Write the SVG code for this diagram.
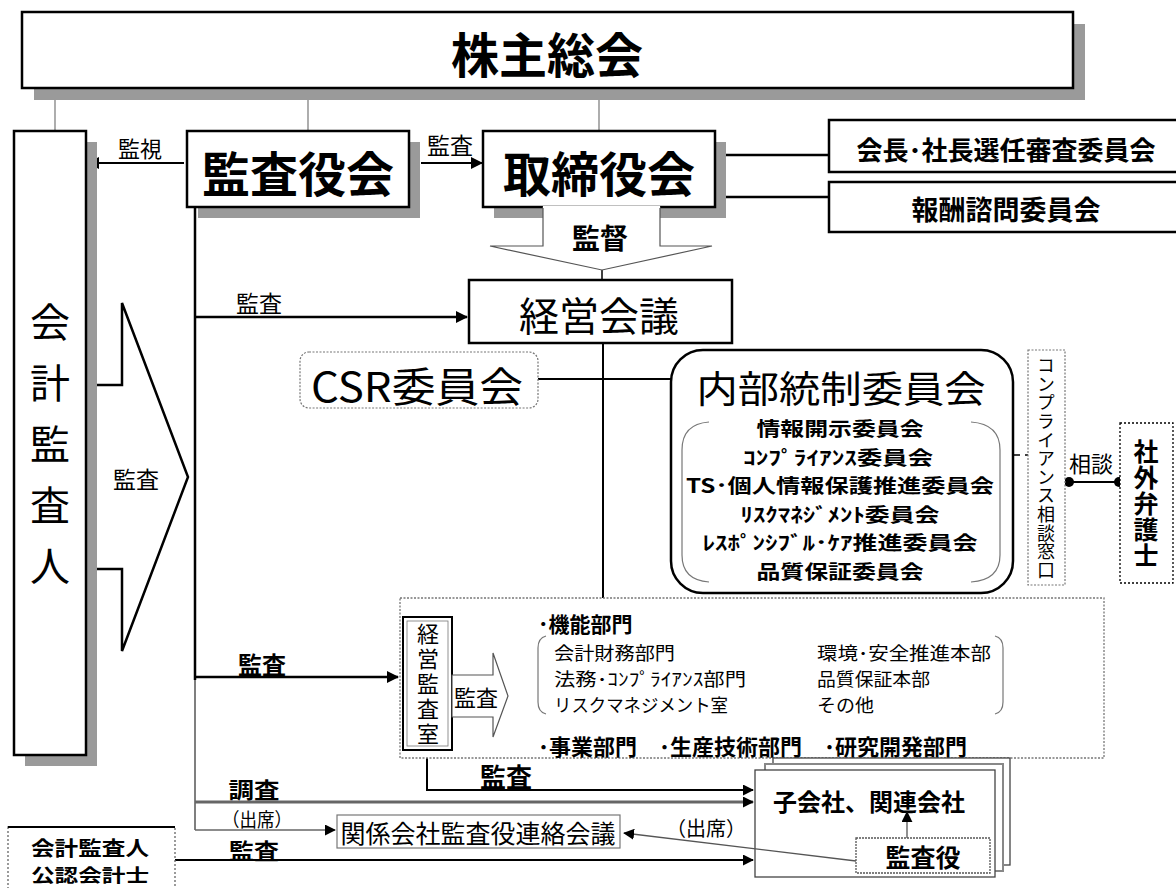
<svg xmlns="http://www.w3.org/2000/svg" width="1176" height="888" viewBox="0 0 1176 888">
<defs>
<style>
text{font-family:"Noto Sans CJK JP","Noto Sans CJK SC",sans-serif;fill:#000;dominant-baseline:central}
.c{text-anchor:middle}
.b{font-weight:bold}
.box{fill:#fff;stroke:#000;stroke-width:2.5}
.shd{fill:#9a9a9a}
.thin{fill:none;stroke:#777;stroke-width:1.2}
.ln{fill:none;stroke:#000;stroke-width:2}
.dot{fill:#fff;stroke:#777;stroke-width:1.2;stroke-dasharray:2 1.5}
.vt{writing-mode:vertical-rl}
.li{font-size:19.5px;font-weight:bold;text-anchor:middle}
.dp{font-size:18px}
</style>
<marker id="ah" viewBox="0 0 12 12" refX="11" refY="6" markerWidth="13" markerHeight="12" markerUnits="userSpaceOnUse" orient="auto"><path d="M0,0 L12,6 L0,12 z" fill="#000"/></marker>
<marker id="ahs" viewBox="0 0 12 12" refX="11" refY="6" markerWidth="11" markerHeight="11" markerUnits="userSpaceOnUse" orient="auto"><path d="M0,0 L12,6 L0,12 z" fill="#000"/></marker>
</defs>
<rect width="1176" height="888" fill="#fff"/>

<g id="connectors">
<line x1="55" y1="100" x2="55" y2="131" class="thin"/>
<line x1="308" y1="100" x2="308" y2="131" class="thin"/>
<line x1="599" y1="100" x2="599" y2="131" class="thin"/>
<line x1="184" y1="163" x2="88" y2="163" class="ln" marker-end="url(#ah)"/>
<line x1="421" y1="163" x2="482" y2="163" class="ln" marker-end="url(#ah)"/>
<line x1="715" y1="155" x2="829" y2="155" stroke="#000" stroke-width="2.5"/>
<line x1="715" y1="197" x2="829" y2="197" stroke="#000" stroke-width="2.5"/>
<line x1="195" y1="207" x2="195" y2="680" stroke="#000" stroke-width="2.5"/>
<line x1="195" y1="680" x2="195" y2="830" stroke="#555" stroke-width="1.5"/>
<line x1="195" y1="317" x2="467" y2="317" stroke="#000" stroke-width="2.5" marker-end="url(#ah)"/>
<line x1="195" y1="677" x2="398" y2="677" stroke="#000" stroke-width="2.5" marker-end="url(#ah)"/>
<line x1="602" y1="270" x2="602" y2="280" stroke="#000" stroke-width="1.5"/>
<line x1="603" y1="343" x2="603" y2="598" class="ln"/>
<line x1="538" y1="379" x2="671" y2="379" class="ln"/>
<line x1="941" y1="455" x2="1028" y2="455" stroke="#000" stroke-width="1.5" stroke-dasharray="9 5"/>
<line x1="1068" y1="482" x2="1120" y2="482" class="ln"/>
<circle cx="1069" cy="482" r="5" fill="#000"/>
<circle cx="1119" cy="482" r="5" fill="#000"/>
<polyline points="427,758 427,790 753,790" class="ln" marker-end="url(#ahs)"/>
<line x1="195" y1="802" x2="753" y2="802" stroke="#666" stroke-width="3" marker-end="url(#ahs)"/>
<line x1="195" y1="830" x2="335" y2="830" stroke="#666" stroke-width="1.5" marker-end="url(#ahs)"/>
<line x1="175" y1="860" x2="753" y2="860" class="ln" marker-end="url(#ahs)"/>
</g>

<g id="sokai">
<rect x="34" y="24" width="1051" height="76" class="shd"/>
<rect x="22" y="12" width="1051" height="76" class="box"/>
<text x="547" y="52" class="c b" font-size="48">株主総会</text>
</g>

<g id="kaikei-kansanin">
<rect x="25" y="142" width="72" height="624" class="shd"/>
<rect x="14" y="131" width="72" height="624" class="box"/>
<text x="50" y="454" class="c vt" font-size="40" letter-spacing="21">会計監査人</text>
<text x="140" y="147" class="c" font-size="22">監視</text>
</g>

<g id="kansa-arrow-big">
<polygon points="97,385 122,385 122,303 188,477 122,651 122,569 97,569" fill="#fff" stroke="none"/>
<polyline points="97,385 122,385 122,303 188,477 122,651 122,569 97,569" fill="none" stroke="#000" stroke-width="2.5"/>
<text x="136" y="478" class="c" font-size="23">監査</text>
</g>

<g id="kansayakukai">
<rect x="198" y="142" width="222" height="76" class="shd"/>
<rect x="187" y="131" width="222" height="76" class="box"/>
<text x="298" y="171" class="c b" font-size="48">監査役会</text>
<text x="450" y="144" class="c" font-size="23">監査</text>
</g>

<g id="torishimariyakukai">
<rect x="494" y="142" width="232" height="76" class="shd"/>
<rect x="483" y="131" width="232" height="76" class="box"/>
<text x="599" y="171" class="c b" font-size="48">取締役会</text>
</g>

<g id="kantoku-arrow">
<polygon points="543,207 543,246 490,246 602,270 712,246 660,246 660,207" fill="#fff" stroke="#555" stroke-width="1.2"/>
<line x1="543" y1="207" x2="660" y2="207" stroke="#fff" stroke-width="2"/>
<text x="600" y="237" class="c b" font-size="28">監督</text>
</g>

<g id="kaicho-iinkai">
<rect x="829" y="120" width="360" height="52" class="box"/>
<text x="1006" y="148" class="c b" font-size="26">会長･社長選任審査委員会</text>
</g>

<g id="hoshu-iinkai">
<rect x="829" y="182" width="360" height="50" class="box"/>
<text x="1006" y="208" class="c b" font-size="27">報酬諮問委員会</text>
</g>

<g id="keiei-kaigi">
<rect x="469" y="280" width="263" height="63" class="box"/>
<text x="599" y="314" class="c" font-size="40">経営会議</text>
<text x="259" y="302" class="c" font-size="23">監査</text>
</g>

<g id="csr">
<rect x="300" y="352" width="238" height="56" rx="9" class="dot"/>
<text x="417" y="384" class="c" font-size="41" textLength="212" lengthAdjust="spacingAndGlyphs">CSR委員会</text>
</g>

<g id="naibu-tousei">
<rect x="671" y="350" width="342" height="243" rx="32" class="box"/>
<text x="841" y="387" class="c" font-size="37" textLength="289" lengthAdjust="spacingAndGlyphs">内部統制委員会</text>
<path d="M709,422 Q682,424 682,450 L682,555 Q682,580 709,582" class="thin"/>
<path d="M971,422 Q1000,424 1000,450 L1000,555 Q1000,580 971,582" class="thin"/>
<text x="840" y="427.5" class="li" textLength="167" lengthAdjust="spacingAndGlyphs">情報開示委員会</text>
<text x="838" y="456" class="li" textLength="190" lengthAdjust="spacingAndGlyphs">ｺﾝﾌﾟﾗｲｱﾝｽ委員会</text>
<text x="840" y="484.5" class="li" textLength="308" lengthAdjust="spacingAndGlyphs">TS･個人情報保護推進委員会</text>
<text x="840" y="513" class="li" textLength="199" lengthAdjust="spacingAndGlyphs">ﾘｽｸﾏﾈｼﾞﾒﾝﾄ委員会</text>
<text x="840" y="541.5" class="li" textLength="275" lengthAdjust="spacingAndGlyphs">ﾚｽﾎﾟﾝｼﾌﾞﾙ･ｹｱ推進委員会</text>
<text x="840" y="570" class="li" textLength="167" lengthAdjust="spacingAndGlyphs">品質保証委員会</text>
</g>

<g id="soudan-madoguchi">
<rect x="1028" y="350" width="37" height="235" class="dot"/>
<text x="1046" y="468" class="c vt" font-size="18" letter-spacing="0.6">コンプライアンス相談窓口</text>
<text x="1091" y="462" class="c" font-size="22">相談</text>
</g>

<g id="shagai-bengoshi">
<rect x="1120" y="423" width="53" height="160" fill="#fff" stroke="#000" stroke-width="1.3" stroke-dasharray="2 2"/>
<text x="1146" y="503.5" class="c b vt" font-size="25" letter-spacing="1">社外弁護士</text>
</g>

<g id="bumon">
<rect x="400" y="598" width="704" height="160" fill="#fff" stroke="#777" stroke-width="1.3" stroke-dasharray="2 1.5"/>
<text x="538" y="623" font-size="21" class="b">･機能部門</text>
<path d="M546,636 Q538,638 538,648 L538,702 Q538,712 546,714" class="thin"/>
<path d="M995,636 Q1003,638 1003,648 L1003,702 Q1003,712 995,714" class="thin"/>
<text x="554" y="652" class="dp" textLength="121" lengthAdjust="spacingAndGlyphs">会計財務部門</text>
<text x="554" y="678" class="dp" textLength="192" lengthAdjust="spacingAndGlyphs">法務･ｺﾝﾌﾟﾗｲｱﾝｽ部門</text>
<text x="554" y="704" class="dp" textLength="174" lengthAdjust="spacingAndGlyphs">リスクマネジメント室</text>
<text x="817" y="652" class="dp" textLength="174" lengthAdjust="spacingAndGlyphs">環境･安全推進本部</text>
<text x="817" y="678" class="dp" textLength="113" lengthAdjust="spacingAndGlyphs">品質保証本部</text>
<text x="817" y="704" class="dp" textLength="57" lengthAdjust="spacingAndGlyphs">その他</text>
<text x="538" y="745" font-size="22" class="b">･事業部門　･生産技術部門　･研究開発部門</text>
<text x="262" y="663" class="c b" font-size="24">監査</text>
</g>

<g id="keiei-kansashitsu">
<rect x="403" y="617" width="49" height="133" fill="#fff" stroke="#000" stroke-width="2"/>
<rect x="407" y="621" width="41" height="125" fill="none" stroke="#777" stroke-width="0.8"/>
<text x="428" y="685.5" class="c vt" font-size="22" letter-spacing="3">経営監査室</text>
<polygon points="452,675 493,675 493,653 508,696 493,737 493,717 452,717" fill="#fff" stroke="#555" stroke-width="1.2"/>
<text x="476" y="696" class="c" font-size="22">監査</text>
<text x="506" y="775" class="c b" font-size="26">監査</text>
</g>

<g id="kogaisha">
<rect x="773" y="758" width="237" height="107" fill="#fff" stroke="#444" stroke-width="1.3"/>
<rect x="765" y="764" width="238" height="107" fill="#fff" stroke="#888" stroke-width="2"/>
<rect x="755" y="770" width="240" height="107" fill="#fff" stroke="#444" stroke-width="1.3"/>
<text x="869" y="800" class="c b" font-size="24">子会社、関連会社</text>
<line x1="907" y1="838" x2="907" y2="812" stroke="#555" stroke-width="1.3" marker-end="url(#ahs)"/>
</g>

<g id="kansayaku">
<rect x="856" y="838" width="134" height="35" fill="#fff" stroke="#555" stroke-width="1.3" stroke-dasharray="2 1"/>
<text x="923" y="856" class="c b" font-size="25">監査役</text>
<line x1="856" y1="861" x2="624" y2="833" stroke="#555" stroke-width="1.3" marker-end="url(#ahs)"/>
<text x="706" y="827" class="c" font-size="20">（出席）</text>
</g>

<g id="renraku-kaigi">
<rect x="337" y="815" width="283" height="33" fill="#fff" stroke="#777" stroke-width="1.2"/>
<text x="478" y="832" class="c" font-size="25">関係会社監査役連絡会議</text>
<text x="254" y="788" class="c b" font-size="22" textLength="51" lengthAdjust="spacingAndGlyphs">調査</text>
<text x="257" y="818" class="c" font-size="19" textLength="70" lengthAdjust="spacingAndGlyphs">（出席）</text>
<text x="254" y="849" class="c b" font-size="22" textLength="50" lengthAdjust="spacingAndGlyphs">監査</text>
</g>

<g id="kaikei-cpa">
<rect x="8" y="827" width="167" height="80" fill="#fff" stroke="#666" stroke-width="1.3" stroke-dasharray="2 2"/>
<line x1="8" y1="827" x2="175" y2="827" stroke="#000" stroke-width="2"/>
<text x="90" y="847" class="c b" font-size="20" textLength="118" lengthAdjust="spacingAndGlyphs">会計監査人</text>
<text x="90" y="874" class="c b" font-size="18" textLength="118" lengthAdjust="spacingAndGlyphs">公認会計士</text>
</g>
</svg>
